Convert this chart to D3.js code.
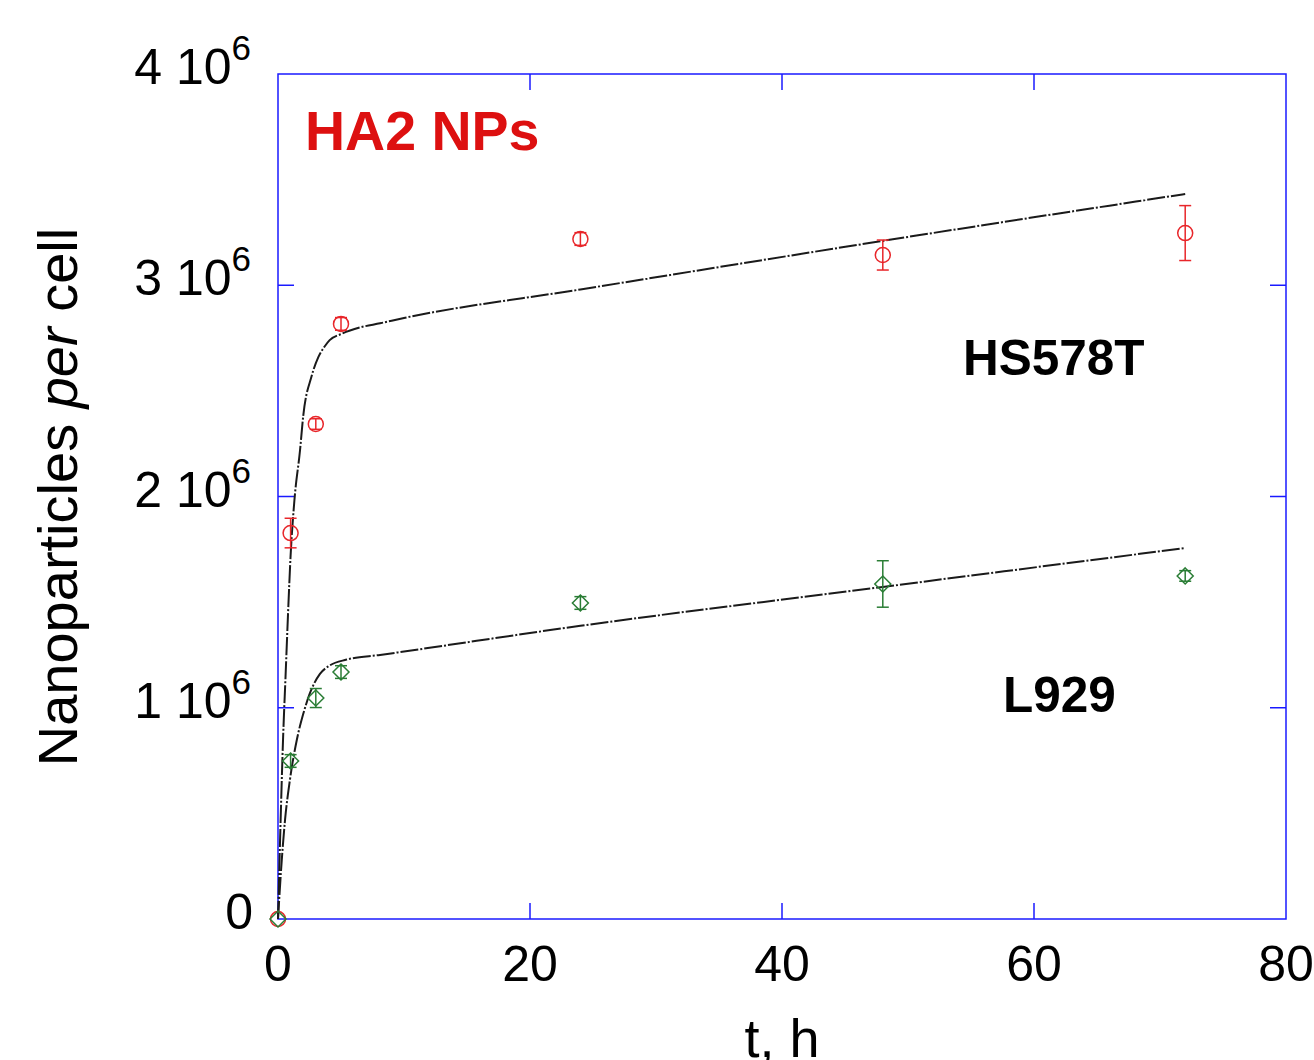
<!DOCTYPE html>
<html>
<head>
<meta charset="utf-8">
<script src="https://cdn.jsdelivr.net/npm/d3@7"></script>
<style>
  html, body { margin: 0; padding: 0; background: #fff; }
  svg { display: block; font-family: "Liberation Sans", Arial, sans-serif; }
</style>
</head>
<body>
<svg id="chart" width="1314" height="1060"></svg>
<script>
// measured points, t in hours, value in units of 1e6 nanoparticles per cell
const times = [0, 1, 3, 5, 24, 48, 72];
const hs578tValues = [0, 1.827, 2.343, 2.817, 3.219, 3.143, 3.247];
const hs578tErrors = [0, 0.07, 0.025, 0.03, 0.03, 0.071, 0.13];
const l929Values = [0, 0.748, 1.046, 1.169, 1.496, 1.586, 1.624];
const l929Errors = [0, 0.03, 0.045, 0.03, 0.03, 0.11, 0.025];

// fitted curves: [t, value]
const hs578tFit = [[0, 0], [0.2, 0.45], [0.4, 0.85], [0.6, 1.15], [0.8, 1.45], [1.0, 1.72],
  [1.3, 1.98], [1.75, 2.22], [2.0, 2.38], [2.67, 2.57], [3.2, 2.66], [3.7, 2.71],
  [4.1, 2.74], [5.05, 2.77], [6.5, 2.80], [8.1, 2.82], [10, 2.845], [24, 2.98],
  [48, 3.21], [72, 3.432]];
const l929Fit = [[0, 0], [0.3, 0.28], [0.56, 0.47], [0.95, 0.66], [1.5, 0.85], [2.0, 0.97],
  [2.54, 1.07], [3.33, 1.16], [4.1, 1.2], [5.45, 1.228], [8.1, 1.25], [24, 1.388],
  [48, 1.572], [72, 1.756]];

const xTicks = [0, 20, 40, 60, 80];
const yTicks = [0, 1, 2, 3, 4];

const RED = '#e8262a';
const GREEN = '#2a7d35';
const BLUE = '#1a1aff';

const margin = { left: 278, right: 28, top: 74, bottom: 141 };
const svg = d3.select('#chart');
const W = +svg.attr('width');
const H = +svg.attr('height');

const x = d3.scaleLinear().domain([0, 80]).range([margin.left, W - margin.right]);
const y = d3.scaleLinear().domain([0, 4]).range([H - margin.bottom, margin.top]);

const TICK = 16;

// frame
svg.append('rect')
  .attr('x', x(0)).attr('y', y(4))
  .attr('width', x(80) - x(0)).attr('height', y(0) - y(4))
  .attr('fill', 'none').attr('stroke', BLUE).attr('stroke-width', 1.5);

// inward ticks on all four sides
const tickG = svg.append('g').attr('stroke', BLUE).attr('stroke-width', 1.5);
yTicks.slice(1, -1).forEach(function (v) {
  tickG.append('line').attr('x1', x(0)).attr('x2', x(0) + TICK).attr('y1', y(v)).attr('y2', y(v));
  tickG.append('line').attr('x1', x(80)).attr('x2', x(80) - TICK).attr('y1', y(v)).attr('y2', y(v));
});
xTicks.slice(1, -1).forEach(function (v) {
  tickG.append('line').attr('x1', x(v)).attr('x2', x(v)).attr('y1', y(0)).attr('y2', y(0) - TICK);
  tickG.append('line').attr('x1', x(v)).attr('x2', x(v)).attr('y1', y(4)).attr('y2', y(4) + TICK);
});

// y tick labels like "2 10^6"
yTicks.forEach(function (v) {
  const t = svg.append('text')
    .attr('x', x(0) - 27).attr('y', y(v) + 10)
    .attr('text-anchor', 'end')
    .attr('font-size', 50).attr('fill', '#000');
  if (v === 0) {
    t.attr('x', x(0) - 25).text('0');
  } else {
    t.append('tspan').text(v + ' 10');
    t.append('tspan').attr('dy', -24).attr('font-size', 35).text('6');
  }
});

// x tick labels
xTicks.forEach(function (v) {
  svg.append('text')
    .attr('x', x(v)).attr('y', y(0) + 62)
    .attr('text-anchor', 'middle')
    .attr('font-size', 50).attr('fill', '#000')
    .text(v);
});

// axis titles
svg.append('text')
  .attr('x', x(40)).attr('y', 1057)
  .attr('text-anchor', 'middle')
  .attr('font-size', 54)
  .text('t, h');

const yTitle = svg.append('text')
  .attr('transform', 'translate(77,' + 497 + ') rotate(-90)')
  .attr('text-anchor', 'middle')
  .attr('font-size', 56);
yTitle.append('tspan').text('Nanoparticles ');
yTitle.append('tspan').attr('font-style', 'italic').text('per');
yTitle.append('tspan').text(' cell');

// annotations
svg.append('text').attr('x', 305).attr('y', 150)
  .attr('font-size', 55.5).attr('font-weight', 'bold').attr('fill', '#dd1010')
  .text('HA2 NPs');
svg.append('text').attr('x', 963).attr('y', 375)
  .attr('font-size', 49.5).attr('font-weight', 'bold').attr('fill', '#000')
  .text('HS578T');
svg.append('text').attr('x', 1003).attr('y', 712)
  .attr('font-size', 49.5).attr('font-weight', 'bold').attr('fill', '#000')
  .text('L929');

// fitted curves
const line = d3.line()
  .x(d => x(d[0]))
  .y(d => y(d[1]))
  .curve(d3.curveMonotoneX);

[hs578tFit, l929Fit].forEach(function (fit) {
  svg.append('path')
    .datum(fit)
    .attr('d', line)
    .attr('fill', 'none')
    .attr('stroke', '#1a1a1a')
    .attr('stroke-width', 2)
    .attr('stroke-dasharray', '18,2,2,2');
});

// error bars + markers
function drawSeries(values, errors, color, shape) {
  const g = svg.append('g').attr('stroke', color).attr('fill', 'none').attr('stroke-width', 1.5);
  times.forEach(function (t, i) {
    const cx = x(t);
    const cy = y(values[i]);
    if (i > 0) {
      const top = y(values[i] + errors[i]);
      const bot = y(values[i] - errors[i]);
      g.append('line').attr('x1', cx).attr('x2', cx).attr('y1', top).attr('y2', bot);
      g.append('line').attr('x1', cx - 6).attr('x2', cx + 6).attr('y1', top).attr('y2', top);
      g.append('line').attr('x1', cx - 6).attr('x2', cx + 6).attr('y1', bot).attr('y2', bot);
    }
    if (shape === 'circle') {
      g.append('circle').attr('cx', cx).attr('cy', cy).attr('r', 7.5);
    } else {
      const r = 8;
      g.append('path').attr('d',
        'M' + cx + ',' + (cy - r) + 'L' + (cx + r) + ',' + cy +
        'L' + cx + ',' + (cy + r) + 'L' + (cx - r) + ',' + cy + 'Z');
    }
  });
}

drawSeries(hs578tValues, hs578tErrors, RED, 'circle');
drawSeries(l929Values, l929Errors, GREEN, 'diamond');
</script>
</body>
</html>
